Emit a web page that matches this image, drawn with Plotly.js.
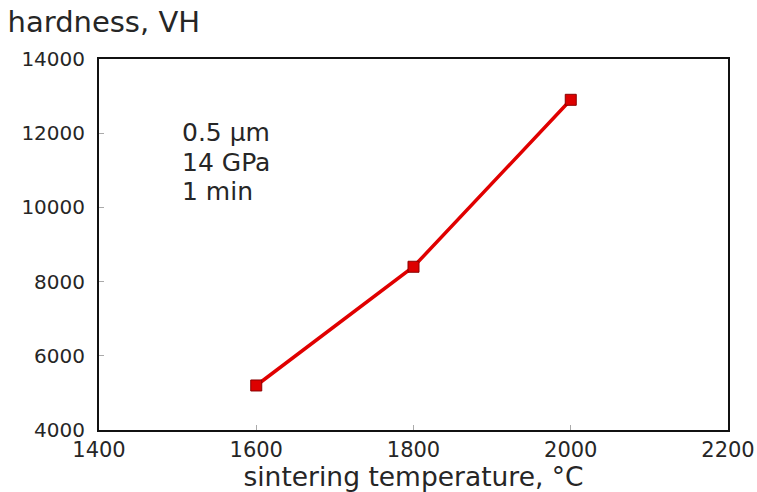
<!DOCTYPE html>
<html>
<head>
<meta charset="utf-8">
<script src="https://cdn.plot.ly/plotly-3.0.1.min.js"></script>
<style>html,body{margin:0;padding:0;background:#fff;}#chart{width:757px;height:492px;}</style>
</head>
<body>
<div id="chart"></div>
<script>
const temperature = [1600, 1800, 2000];
const hardness = [5200, 8400, 12900];
const xTicks = [1400, 1600, 1800, 2000, 2200];
const yTicks = [4000, 6000, 8000, 10000, 12000, 14000];
const conditions = ["0.5 µm", "14 GPa", "1 min"];

const FONT = "DejaVu Sans, Liberation Sans, Arial, sans-serif";
const TXT = "#262626";

const trace = {
  x: temperature,
  y: hardness,
  mode: "lines+markers",
  type: "scatter",
  line: {color: "#e00000", width: 3.5},
  marker: {symbol: "square", size: 11, color: "#dd0000", line: {color: "#8a0000", width: 1}},
  showlegend: false,
  cliponaxis: false
};

const condY = [0.8015, 0.722, 0.6425];
const annotations = conditions.map((t, i) => ({
  xref: "paper", yref: "paper",
  x: 0.128, y: condY[i], xanchor: "left", yanchor: "middle",
  align: "left", showarrow: false,
  text: t,
  font: {family: FONT, size: 25, color: TXT}
}));

const layout = {
  width: 757, height: 492,
  margin: {l: 99, r: 29, t: 59, b: 62},
  paper_bgcolor: "#ffffff",
  plot_bgcolor: "#ffffff",
  font: {family: FONT, color: TXT},
  title: {
    text: "hardness, VH",
    font: {family: FONT, size: 29, color: TXT},
    x: 0.01, xref: "container", xanchor: "left",
    y: 0.955, yref: "container", yanchor: "middle"
  },
  xaxis: {
    range: [1400, 2200],
    tickvals: xTicks,
    ticktext: xTicks.map(String),
    ticks: "inside", ticklen: 5, tickcolor: "#aaaaaa", tickwidth: 1,
    showgrid: false, zeroline: false,
    showline: true, linecolor: "#111111", linewidth: 2, mirror: true,
    automargin: false,
    tickfont: {family: FONT, size: 21, color: TXT},
    title: {text: "sintering temperature, °C", font: {family: FONT, size: 26.5, color: TXT}, standoff: 7}
  },
  yaxis: {
    range: [4000, 14000],
    tickvals: yTicks,
    ticktext: yTicks.map(String),
    ticks: "inside", ticklen: 5, tickcolor: "#aaaaaa", tickwidth: 1,
    ticklabelstandoff: 8,
    showgrid: false, zeroline: false,
    showline: true, linecolor: "#111111", linewidth: 2, mirror: true,
    tickfont: {family: FONT, size: 20, color: TXT}
  },
  annotations: annotations
};

Plotly.newPlot("chart", [trace], layout, {displayModeBar: false, staticPlot: true});
</script>
</body>
</html>
